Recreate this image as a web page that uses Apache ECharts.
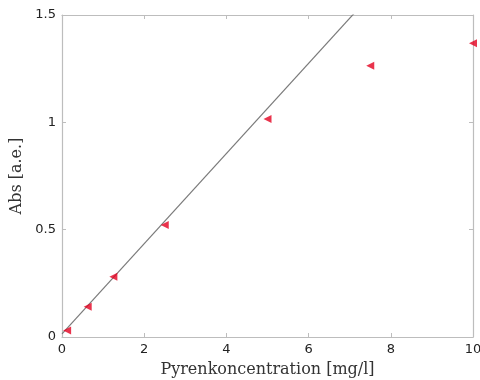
<!DOCTYPE html>
<html>
<head>
<meta charset="utf-8">
<script src="https://cdn.jsdelivr.net/npm/echarts@6/dist/echarts.min.js"></script>
<style>
  html, body { margin: 0; padding: 0; background: #fff; }
  #chart { width: 480px; height: 380px; }
</style>
</head>
<body>
<div id="chart"></div>
<script>
// Measured absorbance vs. pyrene concentration
const concentration = [0.125, 0.625, 1.25, 2.5, 5, 7.5, 10];
const absorbance = [0.03, 0.141, 0.281, 0.522, 1.015, 1.264, 1.368];

// Linear fit endpoints (clipped at the top of the plot)
const fitX = [0, 10];
const fitY = [0.015, 2.115];

const xTicks = [0, 2, 4, 6, 8, 10];
const yTicks = [0, 0.5, 1, 1.5];

const chart = echarts.init(document.getElementById('chart'));

const frameColor = '#bdbdbd';
const axisLine = { show: true, onZero: false, lineStyle: { color: frameColor, width: 1.2 } };
const axisTick = { show: true, inside: true, length: 4, lineStyle: { color: frameColor } };
const tickLabelFont = { fontFamily: 'DejaVu Sans', fontSize: 13, color: '#222' };
const titleFont = { fontFamily: 'DejaVu Serif', fontSize: 16, color: '#333' };

chart.setOption({
  animation: false,
  grid: { left: 62, right: 7, top: 15, bottom: 43, containLabel: false, outerBoundsMode: 'none' },
  xAxis: [
    {
      type: 'value', min: 0, max: 10, interval: 2,
      name: 'Pyrenkoncentration [mg/l]', nameLocation: 'middle', nameGap: 25,
      nameTextStyle: titleFont,
      axisLine: axisLine, axisTick: axisTick,
      axisLabel: Object.assign({ margin: 6, formatter: v => xTicks.includes(v) ? String(v) : '' }, tickLabelFont),
      splitLine: { show: false }
    },
    {
      type: 'value', min: 0, max: 10, interval: 2, position: 'top',
      axisLine: axisLine, axisTick: axisTick,
      axisLabel: { show: false }, splitLine: { show: false }
    }
  ],
  yAxis: [
    {
      type: 'value', min: 0, max: 1.5, interval: 0.5,
      name: 'Abs [a.e.]', nameLocation: 'middle', nameGap: 37, nameRotate: 90,
      nameTextStyle: titleFont,
      axisLine: axisLine, axisTick: axisTick,
      axisLabel: Object.assign({ margin: 6, formatter: v => yTicks.includes(v) ? String(v) : '' }, tickLabelFont),
      splitLine: { show: false }
    },
    {
      type: 'value', min: 0, max: 1.5, interval: 0.5, position: 'right',
      axisLine: axisLine, axisTick: axisTick,
      axisLabel: { show: false }, splitLine: { show: false }
    }
  ],
  series: [
    {
      type: 'line',
      data: fitX.map((x, i) => [x, fitY[i]]),
      showSymbol: false, symbol: 'none', clip: true,
      lineStyle: { color: '#7a7a7a', width: 1.2 },
      z: 2
    },
    {
      type: 'scatter',
      data: concentration.map((x, i) => [x, absorbance[i]]),
      symbol: 'triangle', symbolRotate: 90, symbolSize: 8,
      itemStyle: { color: '#e3001f' },
      clip: false,
      z: 3
    }
  ]
});
</script>
</body>
</html>
